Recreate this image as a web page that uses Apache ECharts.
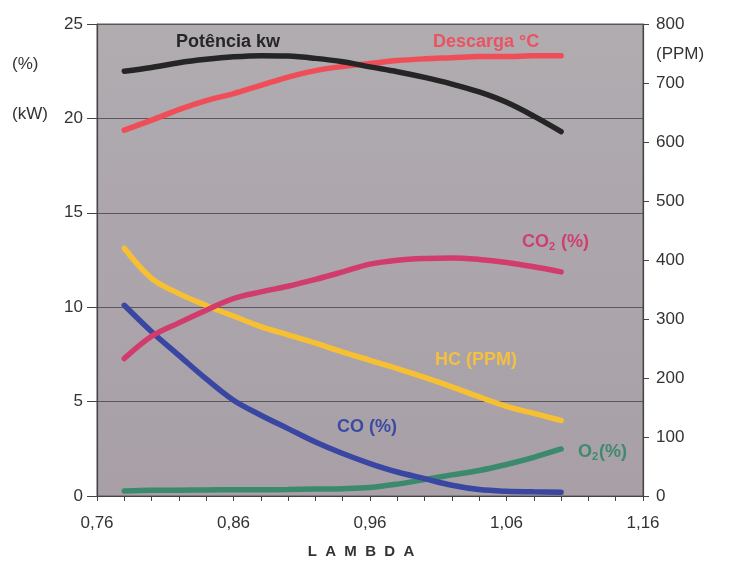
<!DOCTYPE html>
<html>
<head>
<meta charset="utf-8">
<script src="https://cdn.jsdelivr.net/npm/echarts@6/dist/echarts.min.js"></script>
<style>
  html, body { margin: 0; padding: 0; background: #fff; }
  #chart { width: 742px; height: 562px; }
</style>
</head>
<body>
<div id="chart"></div>
<script>
// Lambda (air/fuel ratio) sweep
const lambda = [0.78, 0.80, 0.82, 0.84, 0.86, 0.88, 0.90, 0.92, 0.94, 0.96, 0.98, 1.00, 1.02, 1.04, 1.06, 1.08, 1.10];

// Left axis: kW and %
const potenciaKw = [22.5, 22.7, 22.95, 23.13, 23.26, 23.32, 23.3, 23.18, 23.0, 22.73, 22.47, 22.17, 21.82, 21.4, 20.85, 20.12, 19.3];
const co2Pct     = [7.28, 8.46, 9.17, 9.84, 10.46, 10.81, 11.11, 11.47, 11.87, 12.28, 12.49, 12.58, 12.61, 12.53, 12.37, 12.14, 11.87];
const coPct      = [10.1, 8.7, 7.45, 6.2, 5.07, 4.28, 3.57, 2.86, 2.25, 1.72, 1.27, 0.92, 0.57, 0.34, 0.25, 0.22, 0.2];
const o2Pct      = [0.27, 0.3, 0.31, 0.32, 0.33, 0.33, 0.34, 0.37, 0.39, 0.45, 0.63, 0.87, 1.12, 1.35, 1.67, 2.05, 2.49];

// Right axis: PPM / °C
const descargaC = [620, 637, 655, 670, 682, 696, 710, 721, 728, 733, 738, 741, 743, 745, 745, 746, 746];
const hcPpm     = [420, 369, 343, 323, 305, 287, 273, 259, 244, 230, 216, 201, 185, 168, 152, 140, 128];

// Axis ticks
const xTicks = [0.76, 0.86, 0.96, 1.06, 1.16];
const leftTicks = [0, 5, 10, 15, 20, 25];
const rightTicks = [0, 100, 200, 300, 400, 500, 600, 700, 800];

const FONT = '"Liberation Sans", Arial, sans-serif';
const TXT = '#333333';

function pairs(ys) { return lambda.map((x, i) => [x, ys[i]]); }

function lineSeries(name, ys, color, yAxisIndex) {
  return {
    name, type: 'line', yAxisIndex, data: pairs(ys),
    smooth: 0.35, symbol: 'none',
    lineStyle: { color, width: 5.5, cap: 'round' },
    z: 3
  };
}

function label(text, x, y, color) {
  return {
    type: 'text', x, y, z: 10,
    style: {
      text, fill: color, font: 'bold 18px ' + FONT,
      textVerticalAlign: 'middle',
      rich: {
        a: { fontFamily: FONT, fontSize: 18, fontWeight: 'bold', fill: color },
        s: { fontFamily: FONT, fontSize: 11, fontWeight: 'bold', fill: color, padding: [9, 1, 0, 0] }
      }
    }
  };
}

function unit(text, x, y, align) {
  return {
    type: 'text', x, y, z: 10,
    style: { text, fill: TXT, font: '17px ' + FONT, textAlign: align || 'left', textVerticalAlign: 'middle' }
  };
}

const chart = echarts.init(document.getElementById('chart'), null, { renderer: 'canvas' });

chart.setOption({
  animation: false,
  backgroundColor: '#ffffff',
  grid: {
    left: 97, right: 99, top: 24, bottom: 66,
    show: true,
    borderColor: '#5a5a5a', borderWidth: 1,
    backgroundColor: {
      type: 'linear', x: 0, y: 0, x2: 0, y2: 1,
      colorStops: [{ offset: 0, color: '#b0acb0' }, { offset: 1, color: '#a89fa7' }]
    }
  },
  xAxis: {
    type: 'value', min: 0.76, max: 1.16, interval: 0.02,
    axisLine: { show: true, lineStyle: { color: '#444', width: 1.2 } },
    axisTick: { show: true, length: 5, lineStyle: { color: '#444' } },
    splitLine: { show: false },
    axisLabel: {
      color: TXT, fontFamily: FONT, fontSize: 17, margin: 19,
      showMinLabel: true, showMaxLabel: true,
      formatter: v => {
        const hit = xTicks.find(t => Math.abs(t - v) < 1e-6);
        return hit === undefined ? '' : hit.toFixed(2).replace('.', ',');
      }
    }
  },
  yAxis: [
    {
      type: 'value', min: leftTicks[0], max: leftTicks[leftTicks.length - 1], interval: 5,
      position: 'left',
      axisLine: { show: true, lineStyle: { color: '#444', width: 1.2 } },
      axisTick: { show: true, length: 10, lineStyle: { color: '#444' } },
      splitLine: { show: true, lineStyle: { color: '#595759', width: 1 } },
      axisLabel: { color: TXT, fontFamily: FONT, fontSize: 17, margin: 14 }
    },
    {
      type: 'value', min: rightTicks[0], max: rightTicks[rightTicks.length - 1], interval: 100,
      position: 'right',
      axisLine: { show: true, lineStyle: { color: '#444', width: 1.2 } },
      axisTick: { show: true, length: 6, lineStyle: { color: '#444' } },
      splitLine: { show: false },
      axisLabel: { color: TXT, fontFamily: FONT, fontSize: 17, margin: 13 }
    }
  ],
  series: [
    lineSeries('O2 (%)', o2Pct, '#3b8a6c', 0),
    lineSeries('CO (%)', coPct, '#3a47a2', 0),
    lineSeries('HC (PPM)', hcPpm, '#f6c032', 1),
    lineSeries('CO2 (%)', co2Pct, '#d23c6c', 0),
    lineSeries('Descarga °C', descargaC, '#ef4e58', 1),
    lineSeries('Potência kw', potenciaKw, '#252525', 0)
  ],
  graphic: [
    label('{a|Potência kw}', 176, 42, '#262626'),
    label('{a|Descarga °C}', 433, 42, '#ea5360'),
    label('{a|CO}{s|2}{a| (%)}', 522, 242, '#cf3f6e'),
    label('{a|HC (PPM)}', 435, 360, '#f4c040'),
    label('{a|CO (%)}', 337, 427, '#3b4aa2'),
    label('{a|O}{s|2}{a|(%)}', 578, 452, '#3f8a6c'),
    unit('(%)', 12, 64),
    unit('(kW)', 12, 114),
    unit('(PPM)', 656, 54),
    {
      type: 'text', x: 361, y: 552, z: 10,
      style: {
        text: 'L  A  M  B  D  A', fill: '#333', font: 'bold 15px ' + FONT,
        textAlign: 'center', textVerticalAlign: 'middle'
      }
    }
  ]
});
</script>
</body>
</html>
